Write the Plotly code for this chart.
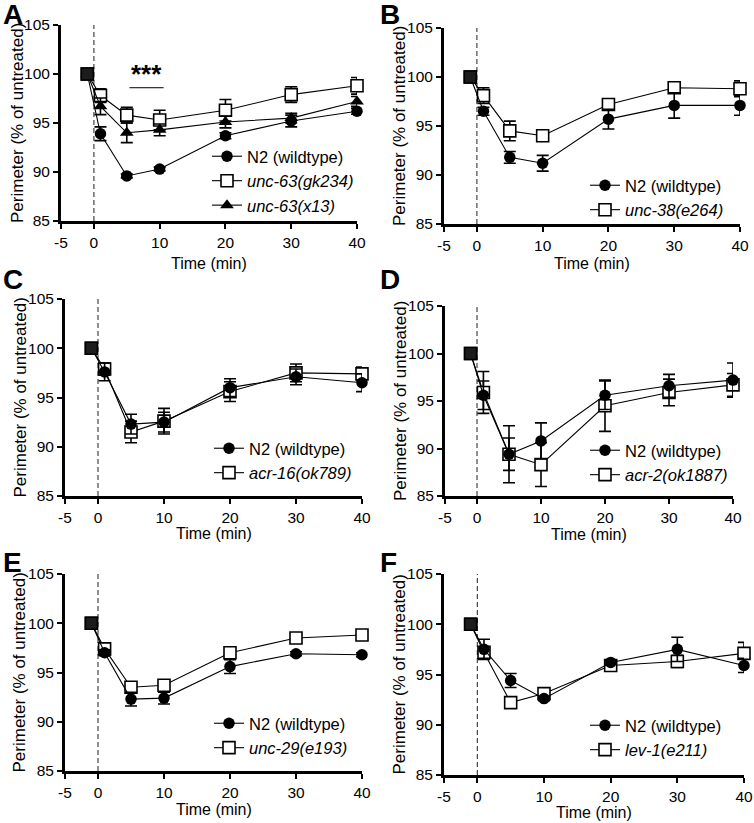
import plotly.graph_objects as go

W, H = 754, 823

# ---------------- data ----------------
time_min = [-1, 1, 5, 10, 20, 30, 40]
x_ticks = [-5, 0, 10, 20, 30, 40]
y_ticks = [85, 90, 95, 100, 105]

# Panel A
a_n2 = [100, 93.9, 89.6, 90.3, 93.7, 95.2, 96.2]
a_n2_err = [0, 0.7, 0.2, 0.2, 0.3, 0.6, 0.3]
a_gk234 = [100, 97.8, 95.8, 95.3, 96.3, 97.9, 98.8]
a_gk234_err = [0, 0.7, 0.8, 1.0, 1.1, 0.8, 0.85]
a_x13 = [100, 96.7, 94.0, 94.3, 95.1, 95.5, 97.2]
a_x13_err = [0, 0.85, 1.0, 0.6, 0.6, 0.5, 0.5]

# Panel B
b_n2 = [100, 96.5, 91.8, 91.2, 95.7, 97.1, 97.1]
b_n2_err = [0, 0.4, 0.6, 0.8, 1.0, 1.3, 1.0]
b_e264 = [100, 98.1, 94.5, 94.0, 97.2, 98.9, 98.8]
b_e264_err = [0, 0.8, 1.0, 0.4, 0.3, 0.4, 0.8]

# Panel C
c_n2 = [100, 97.6, 92.3, 92.5, 96.0, 97.1, 96.5]
c_n2_err = [0, 0.9, 1.0, 1.0, 0.9, 0.8, 0.9]
c_ok789 = [100, 97.9, 91.5, 92.6, 95.6, 97.5, 97.4]
c_ok789_err = [0, 0.6, 1.1, 1.3, 1.0, 0.9, 0.7]

# Panel D
d_n2 = [100, 95.6, 89.4, 90.8, 95.6, 96.6, 97.2]
d_n2_err = [0, 1.5, 1.7, 1.9, 1.5, 1.2, 1.8]
d_ok1887 = [100, 95.9, 89.4, 88.3, 94.5, 95.9, 96.7]
d_ok1887_err = [0, 2.2, 3.0, 2.3, 2.7, 1.4, 1.2]

# Panel E
e_n2 = [100, 97.0, 92.3, 92.4, 95.6, 96.9, 96.8]
e_n2_err = [0, 0.3, 0.7, 0.6, 0.7, 0.2, 0.2]
e_e193 = [100, 97.4, 93.5, 93.7, 97.0, 98.5, 98.8]
e_e193_err = [0, 0.3, 0.3, 0.3, 0.6, 0.2, 0.2]

# Panel F
f_n2 = [100, 97.5, 94.4, 92.6, 96.2, 97.5, 95.9]
f_n2_err = [0, 1.0, 0.7, 0.2, 0.2, 1.2, 0.7]
f_e211 = [100, 97.2, 92.2, 93.1, 95.9, 96.3, 97.1]
f_e211_err = [0, 0.4, 0.3, 0.3, 0.3, 0.6, 1.1]

panels = [
    dict(letter="A", series=[
        ("N2 (wildtype)", a_n2, a_n2_err, "circle"),
        ("<i>unc-63(gk234)</i>", a_gk234, a_gk234_err, "square-open"),
        ("<i>unc-63(x13)</i>", a_x13, a_x13_err, "triangle-up"),
    ], box=(61, 357, 25, 221), legend_xy=(207, 139), xtitle_y=263, ytitle_x=18,
        letter_xy=(1, 15)),
    dict(letter="B", series=[
        ("N2 (wildtype)", b_n2, b_n2_err, "circle"),
        ("<i>unc-38(e264)</i>", b_e264, b_e264_err, "square-open"),
    ], box=(444, 740, 28, 224), legend_xy=(585, 168), xtitle_y=263, ytitle_x=399,
        letter_xy=(378, 15)),
    dict(letter="C", series=[
        ("N2 (wildtype)", c_n2, c_n2_err, "circle"),
        ("<i>acr-16(ok789)</i>", c_ok789, c_ok789_err, "square-open"),
    ], box=(65, 362, 299, 496), legend_xy=(209, 431), xtitle_y=533, ytitle_x=20,
        letter_xy=(1, 279)),
    dict(letter="D", series=[
        ("N2 (wildtype)", d_n2, d_n2_err, "circle"),
        ("<i>acr-2(ok1887)</i>", d_ok1887, d_ok1887_err, "square-open"),
    ], box=(445, 733, 306, 496), legend_xy=(585, 433), xtitle_y=534, ytitle_x=400,
        letter_xy=(378, 279)),
    dict(letter="E", series=[
        ("N2 (wildtype)", e_n2, e_n2_err, "circle"),
        ("<i>unc-29(e193)</i>", e_e193, e_e193_err, "square-open"),
    ], box=(65, 362, 574, 771), legend_xy=(209, 706), xtitle_y=809, ytitle_x=19,
        letter_xy=(1, 562)),
    dict(letter="F", series=[
        ("N2 (wildtype)", f_n2, f_n2_err, "circle"),
        ("<i>lev-1(e211)</i>", f_e211, f_e211_err, "square-open"),
    ], box=(444, 744, 574, 775), legend_xy=(585, 708), xtitle_y=812, ytitle_x=399,
        letter_xy=(378, 562)),
]

FONT = "Liberation Sans, Arial, sans-serif"
TICKFONT = "Liberation Sans Narrow, Arial Narrow, Liberation Sans, Arial, sans-serif"


def fx(px):
    return px / W


def fy(py):
    return 1 - py / H


fig = go.Figure()
layout = dict(width=W, height=H,
              margin=dict(l=0, r=0, t=0, b=0, pad=0, autoexpand=False),
              paper_bgcolor="white", plot_bgcolor="white", showlegend=True,
              font=dict(family=FONT, color="black"))
annotations = []
shapes = []
rank = {"circle": 1, "square-open": 2, "triangle-up": 3}

for i, p in enumerate(panels):
    n = i + 1
    xa = "x" if n == 1 else f"x{n}"
    ya = "y" if n == 1 else f"y{n}"
    lg = "legend" if n == 1 else f"legend{n}"
    x0, x1, y0, y1 = p["box"]
    axis_common = dict(showline=True, linewidth=3, linecolor="black", ticks="outside",
                       ticklen=5, tickwidth=2, tickcolor="black", showgrid=False,
                       zeroline=False, automargin=False,
                       tickfont=dict(family=TICKFONT, size=15.5, color="black"))
    layout[f"xaxis{'' if n == 1 else n}"] = dict(
        domain=[fx(x0), fx(x1)], anchor=ya, range=[-5, 40], tickvals=x_ticks,
        ticktext=[str(t) for t in x_ticks], **axis_common)
    layout[f"yaxis{'' if n == 1 else n}"] = dict(
        domain=[fy(y1), fy(y0)], anchor=xa, range=[85, 105], tickvals=y_ticks,
        ticktext=[str(t) for t in y_ticks], **axis_common)

    # dashed line at t = 0
    shapes.append(dict(type="line", xref=xa, yref=ya, x0=0, x1=0, y0=85, y1=105,
                       line=dict(color="#444", width=1.2, dash="5px,3px"), layer="below"))

    # traces: mutants first, N2 drawn on top
    order = list(p["series"][1:]) + [p["series"][0]]
    for name, vals, errs, sym in order:
        if sym == "square-open":
            marker = dict(symbol="square", size=12, color="white",
                          line=dict(color="black", width=1.6))
        elif sym == "circle":
            marker = dict(symbol="circle", size=11.5, color="black", line=dict(width=0))
        else:
            marker = dict(symbol="triangle-up", size=12, color="black", line=dict(width=0))
        fig.add_trace(go.Scatter(
            x=time_min, y=vals, mode="lines+markers", name=name,
            line=dict(color="black", width=1.1), marker=marker,
            error_y=dict(type="data", array=errs, visible=True, color="black",
                         thickness=1.6, width=6),
            xaxis=xa, yaxis=ya, legend=lg, legendgroup=f"{n}-{sym}",
            legendrank=rank[sym], cliponaxis=False, showlegend=True))

    # untreated reference point: overlapping markers read as one dark filled square
    ref_vals = p["series"][1][1]
    fig.add_trace(go.Scatter(
        x=[time_min[0]], y=[ref_vals[0]], mode="markers", showlegend=False,
        marker=dict(symbol="square", size=12, color="#1c1c1c",
                    line=dict(color="black", width=1.6)),
        xaxis=xa, yaxis=ya, cliponaxis=False, hoverinfo="skip"))

    lx, ly = p["legend_xy"]
    layout[lg] = dict(x=fx(lx), y=fy(ly), xanchor="left", yanchor="top",
                      bgcolor="rgba(0,0,0,0)", borderwidth=0,
                      font=dict(family=FONT, size=16.5, color="black"),
                      traceorder="normal", itemclick=False)

    # axis titles
    annotations.append(dict(text="Time (min)", xref="paper", yref="paper",
                            x=fx((x0 + x1) / 2), y=fy(p["xtitle_y"]), xanchor="center",
                            yanchor="middle", showarrow=False,
                            font=dict(family=FONT, size=16, color="black")))
    annotations.append(dict(text="Perimeter (% of untreated)", xref="paper", yref="paper",
                            x=fx(p["ytitle_x"]), y=fy((y0 + y1) / 2), xanchor="center",
                            yanchor="middle", textangle=-90, showarrow=False,
                            font=dict(family=FONT, size=17, color="black")))
    lx_, ly_ = p["letter_xy"]
    annotations.append(dict(text=f"<b>{p['letter']}</b>", xref="paper", yref="paper",
                            x=fx(lx_), y=fy(ly_), xanchor="left", yanchor="middle",
                            showarrow=False, font=dict(family=FONT, size=28, color="black")))

# significance marker in panel A
annotations.append(dict(text="<b>***</b>", xref="x", yref="y", x=8.0, y=100.0, xanchor="center",
                        yanchor="middle", showarrow=False,
                        font=dict(family=FONT, size=26, color="black")))
shapes.append(dict(type="line", xref="x", yref="y", x0=5.4, x1=10.6, y0=98.6, y1=98.6,
                   line=dict(color="black", width=1)))

layout["annotations"] = annotations
layout["shapes"] = shapes
fig.update_layout(**layout)
fig.write_html("out.html", config={"displayModeBar": False},
               post_script="document.body.style.margin='0px';document.body.style.padding='0px';"
                           "document.body.style.overflow='hidden';")
